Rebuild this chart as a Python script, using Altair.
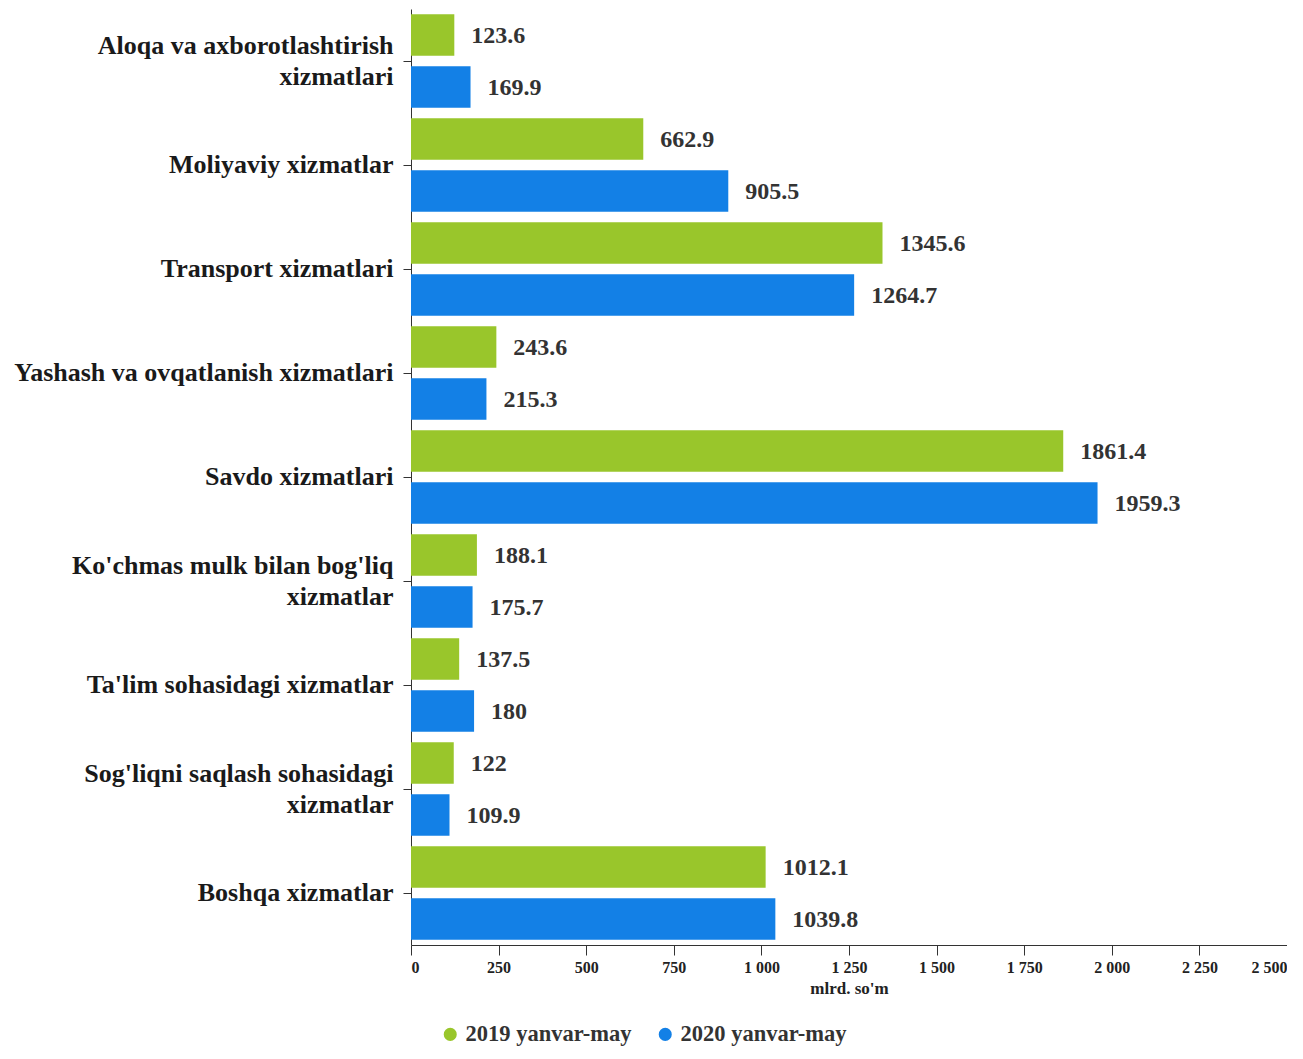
import altair as alt
import pandas as pd

categories = [
    "Aloqa va axborotlashtirish|xizmatlari",
    "Moliyaviy xizmatlar",
    "Transport xizmatlari",
    "Yashash va ovqatlanish xizmatlari",
    "Savdo xizmatlari",
    "Ko'chmas mulk bilan bog'liq|xizmatlar",
    "Ta'lim sohasidagi xizmatlar",
    "Sog'liqni saqlash sohasidagi|xizmatlar",
    "Boshqa xizmatlar",
]
series = ["2019 yanvar-may", "2020 yanvar-may"]
values_2019 = [123.6, 662.9, 1345.6, 243.6, 1861.4, 188.1, 137.5, 122, 1012.1]
values_2020 = [169.9, 905.5, 1264.7, 215.3, 1959.3, 175.7, 180, 109.9, 1039.8]
labels_2019 = ["123.6", "662.9", "1345.6", "243.6", "1861.4", "188.1", "137.5", "122", "1012.1"]
labels_2020 = ["169.9", "905.5", "1264.7", "215.3", "1959.3", "175.7", "180", "109.9", "1039.8"]
colors = ["#99c62b", "#1380e6"]
x_ticks = [0, 250, 500, 750, 1000, 1250, 1500, 1750, 2000, 2250, 2500]

rows = []
for i, c in enumerate(categories):
    rows.append({"cat": c, "series": series[0], "value": values_2019[i], "label": labels_2019[i]})
    rows.append({"cat": c, "series": series[1], "value": values_2020[i], "label": labels_2020[i]})
df = pd.DataFrame(rows)

FONT = "Liberation Serif"

y_enc = alt.Y("cat:N", sort=categories, title=None,
              scale=alt.Scale(paddingInner=0, paddingOuter=0),
              axis=alt.Axis(labelExpr="split(datum.label, '|')", labelFontSize=26,
                            labelFont=FONT, labelFontWeight="bold", labelColor="#1a1a1a",
                            labelLineHeight=31, labelPadding=10, tickSize=8,
                            labelOffset={"condition": {"test": "indexof(datum.value, '|') >= 0",
                                                       "value": -15},
                                         "value": 0},
                            domainColor="#333", tickColor="#333", labelLimit=600))
yoff = alt.YOffset("series:N", sort=series,
                   scale=alt.Scale(paddingInner=0.2, paddingOuter=0.1))

x_enc = alt.X("value:Q", title="mlrd. so'm",
              scale=alt.Scale(domain=[0, 2500], nice=False),
              axis=alt.Axis(values=x_ticks, grid=False, labelFlush=True,
                            labelExpr="replace(format(datum.value, ',d'), ',', ' ')",
                            labelFont=FONT, labelFontWeight="bold", labelFontSize=16,
                            labelColor="#222", titleFont=FONT, titleFontWeight="bold",
                            titleFontSize=17, titleColor="#222", tickSize=10,
                            domainColor="#333", tickColor="#333", labelPadding=4,
                            titlePadding=5))

bars = alt.Chart(df).mark_bar().encode(
    y=y_enc,
    yOffset=yoff,
    x=x_enc,
    color=alt.Color("series:N", sort=series,
                    scale=alt.Scale(domain=series, range=colors),
                    legend=alt.Legend(title=None, orient="none", direction="horizontal",
                                      legendX=28, legendY=1014, symbolType="circle",
                                      symbolSize=170, labelFont=FONT, labelFontWeight="bold",
                                      labelFontSize=22.5, labelColor="#333", labelLimit=400,
                                      columnPadding=22, symbolStrokeWidth=0)),
)

text = alt.Chart(df).mark_text(align="left", baseline="middle", dx=17, dy=1,
                               font=FONT, fontWeight="bold", fontSize=24,
                               color="#333").encode(
    y=alt.Y("cat:N", sort=categories),
    yOffset=alt.YOffset("series:N", sort=series),
    x=alt.X("value:Q"),
    text="label:N",
)

chart = (bars + text).properties(
    width=876, height=936,
    autosize=alt.AutoSizeParams(type="none"),
    padding={"left": 403, "top": 1, "right": 0, "bottom": 101},
).configure_view(stroke=None)

chart.save("out.html", embed_options={"renderer": "svg", "actions": False})
